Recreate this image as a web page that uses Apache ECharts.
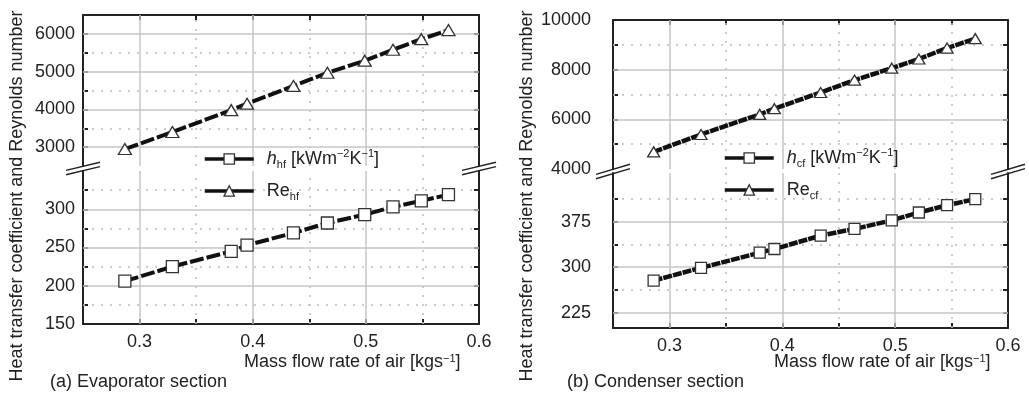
<!DOCTYPE html>
<html><head><meta charset="utf-8">
<script src="https://cdn.jsdelivr.net/npm/echarts@6/dist/echarts.min.js"></script>
<style>html,body{margin:0;padding:0;background:#fff}#c{width:1029px;height:394px}</style>
</head><body><div id="c"></div>
<script>
// ---- data ----
const flowEvap = [0.287, 0.329, 0.381, 0.395, 0.436, 0.466, 0.499, 0.524, 0.549, 0.573];
const reHf     = [2950, 3400, 3980, 4150, 4620, 4970, 5290, 5580, 5860, 6100];
const hHf      = [206, 225, 245, 253, 269, 282, 293, 303, 311, 319];
const flowCond = [0.286, 0.328, 0.380, 0.393, 0.434, 0.464, 0.497, 0.521, 0.546, 0.571];
const reCf     = [4690, 5390, 6200, 6430, 7080, 7580, 8060, 8430, 8870, 9250];
const hCf      = [278, 299, 324, 330, 352, 363, 377, 390, 402, 412];

const xTicks  = [0.3, 0.35, 0.4, 0.45, 0.5, 0.55];
const xLabels = [0.3, 0.4, 0.5, 0.6];
const yTicksReHf  = [3000, 3500, 4000, 4500, 5000, 5500, 6000];
const yLabelsReHf = [3000, 4000, 5000, 6000];
const yTicksHHf   = [175, 200, 225, 250, 275, 300, 325];
const yLabelsHHf  = [150, 200, 250, 300];
const yTicksReCf  = [5000, 6000, 7000, 8000, 9000];
const yLabelsReCf = [4000, 6000, 8000, 10000];
const yTicksHCf   = [225, 262.5, 300, 337.5, 375, 412.5];
const yLabelsHCf  = [225, 300, 375];

const FONT = "'Liberation Sans', Arial, Helvetica, sans-serif";
const INK = '#222';
const GRID_SOLID = '#c6c6c6';
const GRID_DOT = '#bdbdbd';

// layout
const P = [
  {left: 83, width: 396, upTop: 15, upH: 151, loTop: 171, loH: 153, labMargin: 8},
  {left: 613, width: 395, upTop: 20, upH: 149, loTop: 173, loH: 155, labMargin: 22}
];
const grids = [];
P.forEach(p => {
  grids.push({left: p.left, top: p.upTop, width: p.width, height: p.upH});
  grids.push({left: p.left, top: p.loTop, width: p.width, height: p.loH});
});

function xAx(gi, pos, showLab) {
  return {
    type: 'value', gridIndex: gi, position: pos, min: 0.25, max: 0.6,
    axisLine: {show: true, onZero: false, lineStyle: {color: INK, width: 2}},
    axisTick: {show: true, inside: true, length: 5, lineStyle: {color: INK, width: 2}, customValues: xTicks},
    axisLabel: {show: showLab, customValues: xLabels, formatter: v => v.toFixed(1), margin: 9,
      fontSize: 18, color: INK, fontFamily: FONT},
    splitLine: {show: false}
  };
}
function yAx(gi, pos, min, max, ticks, labels, margin) {
  return {
    type: 'value', gridIndex: gi, position: pos, min: min, max: max,
    axisLine: {show: true, onZero: false, lineStyle: {color: INK, width: 2}},
    axisTick: {show: true, inside: true, length: 5, lineStyle: {color: INK, width: 2}, customValues: ticks},
    axisLabel: {show: pos === 'left', customValues: labels, formatter: v => String(v), margin: margin,
      fontSize: 18, color: INK, fontFamily: FONT},
    splitLine: {show: false}
  };
}

const xAxes = [
  xAx(0, 'top', false), xAx(1, 'bottom', true),
  xAx(2, 'top', false), xAx(3, 'bottom', true)
];
const yAxes = [
  yAx(0, 'left', 2500, 6500, yTicksReHf, yLabelsReHf, P[0].labMargin),
  yAx(0, 'right', 2500, 6500, yTicksReHf, [], 8),
  yAx(1, 'left', 150, 350, yTicksHHf, yLabelsHHf, P[0].labMargin),
  yAx(1, 'right', 150, 350, yTicksHHf, [], 8),
  yAx(2, 'left', 4000, 10000, yTicksReCf, yLabelsReCf, P[1].labMargin),
  yAx(2, 'right', 4000, 10000, yTicksReCf, [], 8),
  yAx(3, 'left', 200, 455, yTicksHCf, yLabelsHCf, P[1].labMargin),
  yAx(3, 'right', 200, 455, yTicksHCf, [], 8)
];

function gridLines(hSolid, hDot) {
  const d = [];
  const solid = {type: 'solid', color: GRID_SOLID, width: 1.5};
  const dot = {type: [2, 7], color: GRID_DOT, width: 1.5};
  [0.3, 0.4, 0.5].forEach(v => d.push({xAxis: v, lineStyle: solid}));
  [0.35, 0.45, 0.55].forEach(v => d.push({xAxis: v, lineStyle: dot}));
  hSolid.forEach(v => d.push({yAxis: v, lineStyle: solid}));
  hDot.forEach(v => d.push({yAxis: v, lineStyle: dot}));
  return {silent: true, z: 1, symbol: ['none', 'none'], label: {show: false},
    emphasis: {disabled: true}, animation: false, data: d};
}
function pairs(xs, ys) { return xs.map((x, i) => [x, ys[i]]); }

const markerStyle = {color: '#fff', borderColor: '#333', borderWidth: 1.3};
function ser(name, xi, yi, data, symbol, size, lineType, lineW, ml) {
  return {
    name: name, type: 'line', xAxisIndex: xi, yAxisIndex: yi, data: data,
    symbol: symbol, symbolSize: size, showAllSymbol: true, z: 3,
    itemStyle: markerStyle,
    lineStyle: {color: '#111', width: lineW, type: lineType},
    emphasis: {disabled: true},
    markLine: ml
  };
}

const series = [
  ser('Rehf', 0, 0, pairs(flowEvap, reHf), 'triangle', [13, 11], [14, 3], 4,
      gridLines([3000, 4000, 5000, 6000], [3500, 4500, 5500])),
  ser('hhf', 1, 2, pairs(flowEvap, hHf), 'rect', 12, [14, 3], 4,
      gridLines([200, 250, 300], [175, 225, 275, 325])),
  ser('Recf', 2, 4, pairs(flowCond, reCf), 'triangle', [12, 10], [9, 1], 4.5,
      gridLines([6000, 8000], [5000, 7000, 9000])),
  ser('hcf', 3, 6, pairs(flowCond, hCf), 'rect', 11, [9, 1], 4.5,
      gridLines([225, 300, 375], [262.5, 337.5, 412.5]))
];

const legendNames = {
  hhf: '{i|h}{sub|hf} [kWm{sup|−2}K{sup|−1}]',
  Rehf: '{n|Re}{sub|hf}',
  hcf: '{i|h}{sub|cf} [kWm{sup|−2}K{sup|−1}]',
  Recf: '{n|Re}{sub|cf}'
};
const richDef = {
  i: {fontStyle: 'italic', fontSize: 18, fontFamily: FONT, color: INK, padding: [0, 0, 0, 8]},
  n: {fontSize: 18, fontFamily: FONT, color: INK, padding: [0, 0, 0, 8]},
  sub: {fontSize: 11, fontFamily: FONT, color: INK, verticalAlign: 'bottom', lineHeight: 11},
  sup: {fontSize: 11, fontFamily: FONT, color: INK, verticalAlign: 'top', lineHeight: 11}
};
function legendAt(left, top, names) {
  return {
    left: left, top: top, padding: 0, orient: 'vertical', itemWidth: 49, itemHeight: 13, itemGap: 10,
    data: names, selectedMode: false,
    formatter: n => legendNames[n],
    textStyle: {fontSize: 18, fontFamily: FONT, color: INK, lineHeight: 22, rich: richDef},
    lineStyle: {type: 'solid', width: 3.5, color: '#111'},
    itemStyle: {color: '#fff', borderColor: '#333', borderWidth: 1.3}
  };
}

const supRich = {sup: {fontSize: 11, fontFamily: FONT, fill: INK, verticalAlign: 'top', lineHeight: 11}};
function txt(x, y, text, opts) {
  return Object.assign({
    type: 'text', x: x, y: y, silent: true,
    style: Object.assign({text: text, font: '18px ' + FONT, fill: INK, textAlign: 'left',
      textVerticalAlign: 'middle', rich: supRich}, opts && opts.style)
  }, opts && opts.el);
}
function breakMark(cx, cy, slope) {
  const hw = 17, g = 2.2;
  const dy = hw * slope;
  return {
    type: 'group', silent: true, z: 100, children: [
      {type: 'polygon', shape: {points: [[cx - hw, cy - g + dy], [cx + hw, cy - g - dy], [cx + hw, cy + g - dy], [cx - hw, cy + g + dy]]},
        style: {fill: '#fff'}},
      {type: 'line', shape: {x1: cx - hw, y1: cy - g + dy, x2: cx + hw, y2: cy - g - dy}, style: {stroke: INK, lineWidth: 1.5}},
      {type: 'line', shape: {x1: cx - hw, y1: cy + g + dy, x2: cx + hw, y2: cy + g - dy}, style: {stroke: INK, lineWidth: 1.5}}
    ]
  };
}

const yTitle = 'Heat transfer coefficient and Reynolds number';
const graphic = [
  txt(17, 196, yTitle, {el: {rotation: Math.PI / 2}, style: {textAlign: 'center'}}),
  txt(527, 196, yTitle, {el: {rotation: Math.PI / 2}, style: {textAlign: 'center'}}),
  txt(244, 362, 'Mass flow rate of air [kgs{sup|−1}]'),
  txt(774, 362, 'Mass flow rate of air [kgs{sup|−1}]'),
  txt(50, 382, '(a) Evaporator section'),
  txt(567, 382, '(b) Condenser section'),
  breakMark(83, 168.5, 0.24),
  breakMark(479, 168.5, 0.24),
  breakMark(613, 171.5, 0.3),
  breakMark(1008, 171.5, 0.3)
];

const chart = echarts.init(document.getElementById('c'), null, {renderer: 'canvas'});
chart.setOption({
  backgroundColor: '#fff',
  animation: false,
  textStyle: {fontFamily: FONT},
  grid: grids,
  xAxis: xAxes,
  yAxis: yAxes,
  legend: [legendAt(203, 148, ['hhf', 'Rehf']), legendAt(723, 147, ['hcf', 'Recf'])],
  series: series,
  graphic: graphic
});
</script>
</body></html>
